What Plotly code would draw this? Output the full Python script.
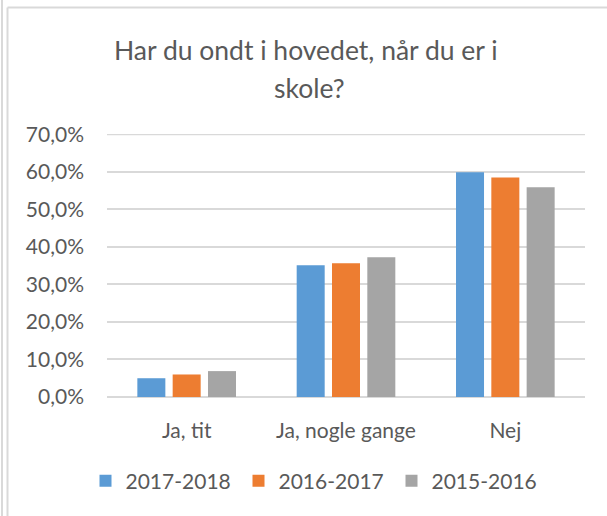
import plotly.graph_objects as go

categories = ["Ja, tit", "Ja, nogle gange", "Nej"]
series_names = ["2017-2018", "2016-2017", "2015-2016"]
values_2017_2018 = [0.050, 0.351, 0.599]
values_2016_2017 = [0.060, 0.356, 0.585]
values_2015_2016 = [0.069, 0.372, 0.559]
colors = ["#5B9BD5", "#ED7D31", "#A5A5A5"]
y_ticks = [0.0, 0.1, 0.2, 0.3, 0.4, 0.5, 0.6, 0.7]
title_lines = ["Har du ondt i hovedet, når du er i", "skole?"]

FONT = "Lato, 'Open Sans', sans-serif"
TEXT = "#595959"
GRID = "#D9D9D9"

W, H = 607, 516
L, R, T, B = 107, 22, 134, 119
pw, ph = W - L - R, H - T - B


def px(x):
    return (x - L) / pw


def py(y):
    return (H - B - y) / ph


fig = go.Figure()
for name, vals, col in zip(series_names,
                           [values_2017_2018, values_2016_2017, values_2015_2016],
                           colors):
    fig.add_trace(go.Bar(x=categories, y=vals, name=name, marker_color=col,
                         marker_line_width=0))

shapes = [
    dict(type="line", xref="paper", yref="paper", x0=px(2), x1=px(2), y0=py(0), y1=py(H),
         line=dict(color=GRID, width=2)),
    dict(type="line", xref="paper", yref="paper", x0=px(7.5), x1=px(7.5), y0=py(7.5), y1=py(H),
         line=dict(color=GRID, width=2)),
    dict(type="line", xref="paper", yref="paper", x0=px(7.5), x1=px(W), y0=py(7.5), y1=py(7.5),
         line=dict(color=GRID, width=2)),
    # top gridline (70 %) which plotly drops at the exact range edge
    dict(type="line", xref="paper", yref="y", x0=0, x1=1, y0=y_ticks[-1], y1=y_ticks[-1],
         line=dict(color=GRID, width=2), layer="below"),
]

annotations = [
    dict(text=title_lines[0], xref="paper", yref="paper", x=px(306), y=py(50),
         xanchor="center", yanchor="middle", showarrow=False,
         font=dict(family=FONT, size=26.5, color=TEXT)),
    dict(text=title_lines[1], xref="paper", yref="paper", x=px(309), y=py(88),
         xanchor="center", yanchor="middle", showarrow=False,
         font=dict(family=FONT, size=26.5, color=TEXT)),
]

fig.update_layout(
    width=W, height=H,
    margin=dict(l=L, r=R, t=T, b=B, pad=0, autoexpand=False),
    paper_bgcolor="white", plot_bgcolor="white",
    barmode="group", bargap=0.335, bargroupgap=0.207,
    separators=",.",
    font=dict(family=FONT, size=21, color=TEXT),
    showlegend=True,
    legend=dict(orientation="h", x=px(315), y=py(481), xanchor="center", yanchor="middle",
                entrywidth=108, entrywidthmode="pixels",
                font=dict(family=FONT, size=21, color=TEXT),
                bgcolor="rgba(0,0,0,0)", traceorder="normal"),
    shapes=shapes,
    annotations=annotations,
    xaxis=dict(showgrid=False, showline=False, zeroline=False, ticks="",
               ticklabelstandoff=19,
               tickfont=dict(family=FONT, size=21, color=TEXT), fixedrange=True),
    yaxis=dict(range=[0, 0.7006], tickvals=y_ticks, tickformat=".1%",
               showgrid=True, gridcolor=GRID, gridwidth=2,
               zeroline=True, zerolinecolor=GRID, zerolinewidth=2,
               showline=False, ticks="", ticklabelstandoff=22,
               tickfont=dict(family=FONT, size=21, color=TEXT), fixedrange=True),
)

fig.write_html("out.html", config={"displayModeBar": False},
               post_script="document.body.style.margin='0';")
